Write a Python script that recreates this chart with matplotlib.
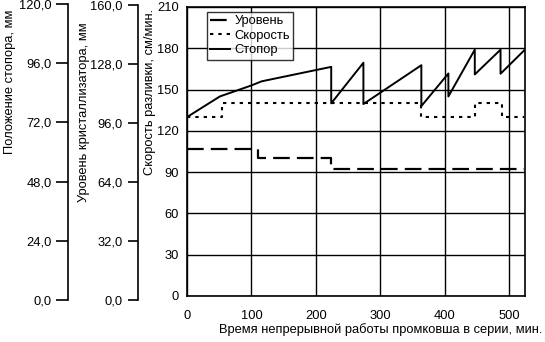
import matplotlib
matplotlib.use('Agg')
import matplotlib.pyplot as plt
from matplotlib.ticker import FuncFormatter

plt.rcParams['font.family'] = 'Liberation Sans'
plt.rcParams['font.size'] = 9.3

# time, min / stopper position curve (sawtooth)
stop_t = [0, 51, 100, 116, 224, 224, 274, 274, 364, 364, 406, 406, 447, 447, 487, 487, 524]
stop_v = [130, 145, 153, 156, 166.5, 140, 169.5, 139.5, 167.7, 138, 161.7, 145, 179, 161, 179, 161.5, 178.6]

# casting speed, cm/min (steps)
speed_t = [0, 54, 54, 364, 364, 447, 447, 490, 490, 524]
speed_v = [130, 130, 140, 140, 130, 130, 140, 140, 130, 130]

# mould level (steps)
level_t = [0, 111, 111, 224, 224, 524]
level_v = [106.7, 106.7, 100, 100, 92, 92]

W, H = 545, 342
fig = plt.figure(figsize=(W / 100, H / 100), dpi=100)

def box(l, r, t, b):
    return [l / W, (H - b) / H, (r - l) / W, (b - t) / H]

ax = fig.add_axes(box(187, 525, 7, 296))
ax.plot(level_t, level_v, color='black', lw=1.6, dashes=(7.5, 3.2), label='Уровень')
ax.plot(speed_t, speed_v, color='black', lw=1.5, dashes=(1.6, 2.4), label='Скорость')
ax.plot(stop_t, stop_v, color='black', lw=1.4, label='Стопор')
ax.set_xlim(0, 525)
ax.set_ylim(0, 210)
ax.set_xticks([0, 100, 200, 300, 400, 500])
ax.set_yticks(range(0, 211, 30))
ax.tick_params(axis='both', length=0)
ax.tick_params(axis='y', pad=6)
ax.tick_params(axis='x', pad=10)
ax.grid(True, color='black', lw=1.0)
for s in ax.spines.values():
    s.set_linewidth(1.2)
leg = ax.legend(loc='upper left', bbox_to_anchor=(0.058, 0.983), frameon=True,
                fancybox=False, edgecolor='black', handlelength=1.6,
                handletextpad=0.3, borderpad=0.25, labelspacing=0.2, borderaxespad=0)
leg.get_frame().set_linewidth(1.0)

fig.text(150 / W, 1 - 92 / H, 'Скорость разливки, см/мин.', rotation=90,
         ha='center', va='center')
fig.text(542 / W, 1 - 330 / H, 'Время непрерывной работы промковша в серии, мин.',
         ha='right', va='center')

comma = FuncFormatter(lambda v, p: ('%.1f' % v).replace('.', ','))

def side_axis(x, top, bottom, top_val, step, label, label_x, label_y, tick_len, pad):
    a = fig.add_axes(box(x, x + 1, top, bottom))
    a.set_ylim(0, top_val)
    a.set_yticks([step * i for i in range(6)])
    a.yaxis.set_major_formatter(comma)
    a.set_xticks([])
    for k in ('top', 'right', 'bottom'):
        a.spines[k].set_visible(False)
    a.spines['left'].set_linewidth(1.2)
    a.tick_params(axis='y', direction='out', length=tick_len, width=1.2, pad=pad)
    a.patch.set_visible(False)
    fig.text(label_x / W, 1 - label_y / H, label, rotation=90, ha='center', va='center')
    return a

side_axis(67.7, 4, 300, 120, 24, 'Положение стопора, мм', 10, 82, 8.5, 3)
side_axis(137.7, 5, 300, 160, 32, 'Уровень кристаллизатора, мм', 84, 112, 7, 4)

fig.savefig('out.png', dpi=100)
